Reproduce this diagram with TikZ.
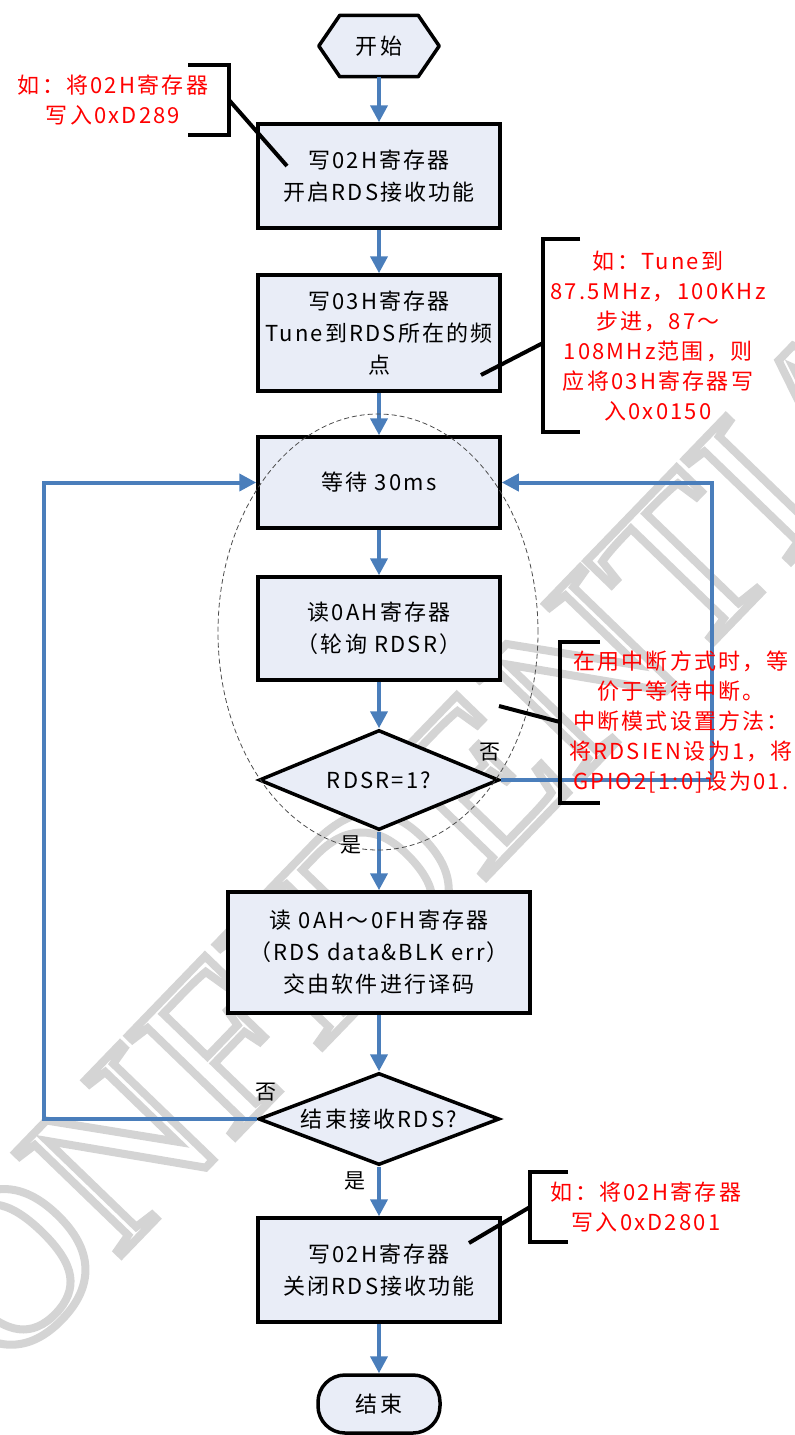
\documentclass[tikz,border=0pt]{standalone}
\usepackage{fontspec}
\setmainfont{Noto Sans CJK SC}[LetterSpace=10]
\newfontfamily\wmfont{Liberation Serif}
\usetikzlibrary{arrows.meta,shapes.geometric,calc}
\definecolor{boxfill}{RGB}{233,237,247}
\definecolor{flowblue}{RGB}{74,126,187}
\newcommand\bxfont{\fontsize{22}{32}\selectfont}
\newcommand\ntfont{\fontsize{22}{30}\selectfont}
\newcommand\lbfont{\fontsize{21}{24}\selectfont}
\newcommand\wmsize{\wmfont\fontsize{225}{225}\selectfont}
\pgfdeclarelayer{wm}
\pgfdeclarelayer{bg}
\pgfsetlayers{wm,bg,main}
\begin{document}
\begin{tikzpicture}[x=1pt,y=-1pt,
  box/.style={draw=black, line width=3.5pt, fill=boxfill, minimum width=242, minimum height=104, inner sep=0pt, align=center, font=\bxfont},
  dec/.style={diamond, draw=black, line width=3.5pt, fill=boxfill, inner sep=0pt, font=\bxfont},
  flow/.style={draw=flowblue, line width=4pt, -{Triangle[length=17pt,width=17pt]}},
  brk/.style={draw=black, line width=4pt},
  note/.style={text=red, align=center, font=\ntfont},
  lbl/.style={font=\lbfont},
  wmark/.style={rotate=46, font=\wmsize, inner sep=0pt}
]
\useasboundingbox (0,0) rectangle (795,1435);
% watermark (outlined letters)
\begin{pgfonlayer}{wm}
  \node[wmark, text=black!17] (wm) at (420,840) {\special{pdf:literal direct 1 Tr 8 w}CONFIDENTIAL\special{pdf:literal direct 0 Tr 1 w}};
\end{pgfonlayer}

% start
\node[minimum width=78, minimum height=61, inner sep=0pt, font=\bxfont] (start) at (379,46) {开始};
\begin{pgfonlayer}{bg}
  \draw[line width=3.5pt, fill=boxfill, line join=round] (start.north west) -- (start.north east) -- ($(start.east)+(21,0)$) -- (start.south east) -- (start.south west) -- ($(start.west)+(-21,0)$) -- cycle;
\end{pgfonlayer}

\node[box] (b1) at (379,176) {写02H寄存器\\开启RDS接收功能};
\node[box, minimum height=116] (b2) at (379,333) {写03H寄存器\\Tune到RDS所在的频\\点};
\node[box, minimum height=91] (b3) at (379,482.5) {等待 30ms};
\node[box, minimum height=103] (b4) at (379,628.5) {读0AH寄存器\\（轮询 RDSR）};
\node[dec, shape aspect=2.4, minimum width=240, minimum height=100] (d1) at (379,780) {RDSR=1?};
\node[box, minimum width=302, minimum height=121] (b5) at (379,952.5) {读 0AH～0FH寄存器\\（RDS data\&BLK err）\\交由软件进行译码};
\node[dec, shape aspect=2.6, minimum width=241, minimum height=92] (d2) at (379,1119) {结束接收RDS?};
\node[box, minimum height=104] (b6) at (379,1270) {写02H寄存器\\关闭RDS接收功能};
\node[box, rounded corners=27pt, minimum width=122, minimum height=58] (end) at (379,1404) {结束};

% flow
\draw[flow] (start.south) -- (b1.north);
\draw[flow] (b1.south) -- (b2.north);
\draw[flow] (b2.south) -- (b3.north);
\draw[flow] (b3.south) -- (b4.north);
\draw[flow] (b4.south) -- (d1.north);
\draw[flow] (d1.south) -- (b5.north);
\draw[flow] (d1.east) -- ++(211,0) |- (b3.east);
\draw[flow] (b5.south) -- (d2.north);
\draw[flow] (d2.west) -- ++(-213,0) |- (b3.west);
\draw[flow] (d2.south) -- (b6.north);
\draw[flow] (b6.south) -- (end.north);

% labels
\node[lbl] (no1) at (490,752) {否};
\node[lbl] (yes1) at (351,845) {是};
\node[lbl] (no2) at (266,1092) {否};
\node[lbl] (yes2) at (355,1181) {是};

% dashed group ellipse
\node[draw=black!70, ellipse, line width=0.8pt, dash pattern=on 5pt off 3pt, minimum width=320, minimum height=436] (grp) at (378,632) {};

% annotation 1
\node[note] (n1) at (113,100) {如：将02H寄存器\\写入0xD289};
\draw[brk] (188,65) -- (229,65) -- (229,135) -- (188,135);
\coordinate (k1) at (229,100);
\coordinate (t1) at (287,166);
\draw[brk] (k1) -- (t1);

% annotation 2
\node[note] (n2) at (658,336) {如：Tune到\\87.5MHz，100KHz\\步进，87～\\108MHz范围，则\\应将03H寄存器写\\入0x0150};
\draw[brk] (580,239) -- (543,239) -- (543,432) -- (580,432);
\coordinate (k2) at (543,343);
\coordinate (t2) at (481,375);
\draw[brk] (k2) -- (t2);

% annotation 3
\node[note] (n3) at (681,722) {在用中断方式时，等\\价于等待中断。\\中断模式设置方法：\\将RDSIEN设为1，将\\GPIO2[1:0]设为01.};
\draw[brk] (600,642) -- (560,642) -- (560,803) -- (600,803);
\coordinate (k3) at (560,722);
\coordinate (t3) at (499,706);
\draw[brk] (k3) -- (t3);

% annotation 4
\node[note] (n4) at (646,1207) {如：将02H寄存器\\写入0xD2801};
\draw[brk] (568,1172) -- (530,1172) -- (530,1242) -- (568,1242);
\coordinate (k4) at (530,1207);
\coordinate (t4) at (469,1243);
\draw[brk] (k4) -- (t4);
\end{tikzpicture}
\end{document}
